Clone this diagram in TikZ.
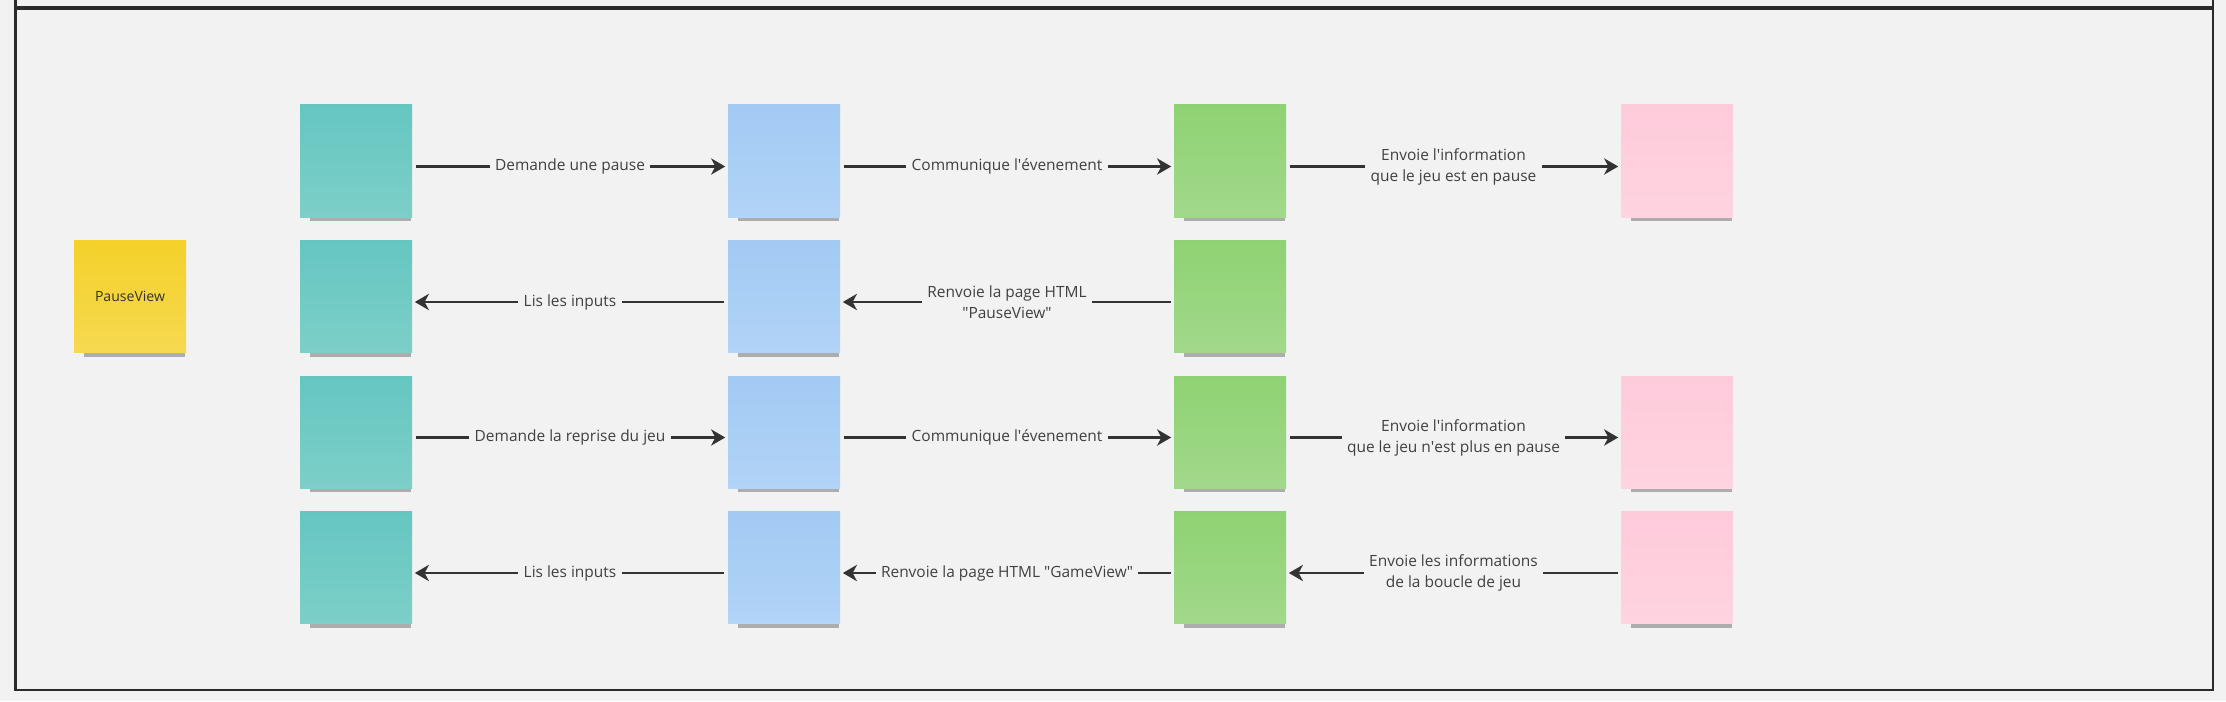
\documentclass[tikz,border=0pt]{standalone}
\usepackage{fontspec}
\setmainfont{Open Sans}
\usepackage{xcolor}
\usepackage{tikz}
\usetikzlibrary{arrows.meta,positioning,shadows}
\definecolor{BoardBg}{HTML}{F2F2F2}
\definecolor{BoardRule}{HTML}{2B2B2B}
\definecolor{BoardInk}{HTML}{333333}
\definecolor{BoardText}{HTML}{404040}
\definecolor{TealTop}{HTML}{65C6C0}
\definecolor{TealBot}{HTML}{7DCFC9}
\definecolor{BlueTop}{HTML}{A2CAF3}
\definecolor{BlueBot}{HTML}{B1D4F7}
\definecolor{GreenTop}{HTML}{8FD273}
\definecolor{GreenBot}{HTML}{A1D98A}
\definecolor{PinkTop}{HTML}{FECBDB}
\definecolor{PinkBot}{HTML}{FFD3E0}
\definecolor{GoldTop}{HTML}{F4D12A}
\definecolor{GoldBot}{HTML}{F6D94F}

\begin{document}
\begin{tikzpicture}[
  sticky/.style={minimum width=11.2mm,minimum height=11.2mm,inner sep=0pt,outer sep=0pt,drop shadow={shadow xshift=0.5mm,shadow yshift=-1.1mm,shadow scale=0.9,opacity=0.45,fill=black!65}},
  viewnote/.style={sticky,top color=TealTop,bottom color=TealBot},
  ctrlnote/.style={sticky,top color=BlueTop,bottom color=BlueBot},
  modelnote/.style={sticky,top color=GreenTop,bottom color=GreenBot},
  servnote/.style={sticky,top color=PinkTop,bottom color=PinkBot},
  pausenote/.style={sticky,top color=GoldTop,bottom color=GoldBot,text=BoardInk,font=\fontsize{4}{5}\selectfont},
  flow/.style={-{Stealth[length=4pt,width=4.6pt,inset=1.2pt]},draw=BoardInk,line width=0.8pt,shorten <=1pt,shorten >=0.8pt,transform canvas={yshift=-0.55mm}},
  lbl/.style={fill=BoardBg,inner xsep=1.5pt,inner ysep=1pt,align=center,text=BoardText,font=\fontsize{4.4}{6}\selectfont}
]
\path[fill=BoardBg,use as bounding box] (0,0) rectangle (22.26,7.01);
\draw[BoardRule,line width=0.7pt] (0.155,7.05) -- (0.155,6.94) -- (22.13,6.94) -- (22.13,7.05);
\draw[BoardRule,line width=0.7pt] (0.155,0.11) rectangle (22.13,6.92);

\node[viewnote] (view1) at (3.56,5.40) {};
\node[ctrlnote,right=3.16cm of view1] (ctrl1) {};
\node[modelnote,right=3.34cm of ctrl1] (model1) {};
\node[servnote,right=3.35cm of model1] (serv1) {};

\node[viewnote,below=2.35mm of view1] (view2) {};
\node[ctrlnote,right=3.16cm of view2] (ctrl2) {};
\node[modelnote,right=3.34cm of ctrl2] (model2) {};

\node[viewnote,below=2.35mm of view2] (view3) {};
\node[ctrlnote,right=3.16cm of view3] (ctrl3) {};
\node[modelnote,right=3.34cm of ctrl3] (model3) {};
\node[servnote,right=3.35cm of model3] (serv3) {};

\node[viewnote,below=2.35mm of view3] (view4) {};
\node[ctrlnote,right=3.16cm of view4] (ctrl4) {};
\node[modelnote,right=3.34cm of ctrl4] (model4) {};
\node[servnote,right=3.35cm of model4] (serv4) {};

\node[pausenote,left=1.14cm of view2] (pause) {PauseView};

\draw[flow] (view1) -- node[lbl]{Demande une pause} (ctrl1);
\draw[flow] (ctrl1) -- node[lbl]{Communique l\textquotesingle{}évenement} (model1);
\draw[flow] (model1) -- node[lbl]{Envoie l\textquotesingle{}information\\que le jeu est en pause} (serv1);

\draw[flow] (ctrl2) -- node[lbl]{Lis les inputs} (view2);
\draw[flow] (model2) -- node[lbl]{Renvoie la page HTML\\\textquotedbl{}PauseView\textquotedbl} (ctrl2);

\draw[flow] (view3) -- node[lbl]{Demande la reprise du jeu} (ctrl3);
\draw[flow] (ctrl3) -- node[lbl]{Communique l\textquotesingle{}évenement} (model3);
\draw[flow] (model3) -- node[lbl]{Envoie l\textquotesingle{}information\\que le jeu n\textquotesingle{}est plus en pause} (serv3);

\draw[flow] (ctrl4) -- node[lbl]{Lis les inputs} (view4);
\draw[flow] (model4) -- node[lbl]{Renvoie la page HTML \textquotedbl{}GameView\textquotedbl} (ctrl4);
\draw[flow] (serv4) -- node[lbl]{Envoie les informations\\de la boucle de jeu} (model4);
\end{tikzpicture}
\end{document}
